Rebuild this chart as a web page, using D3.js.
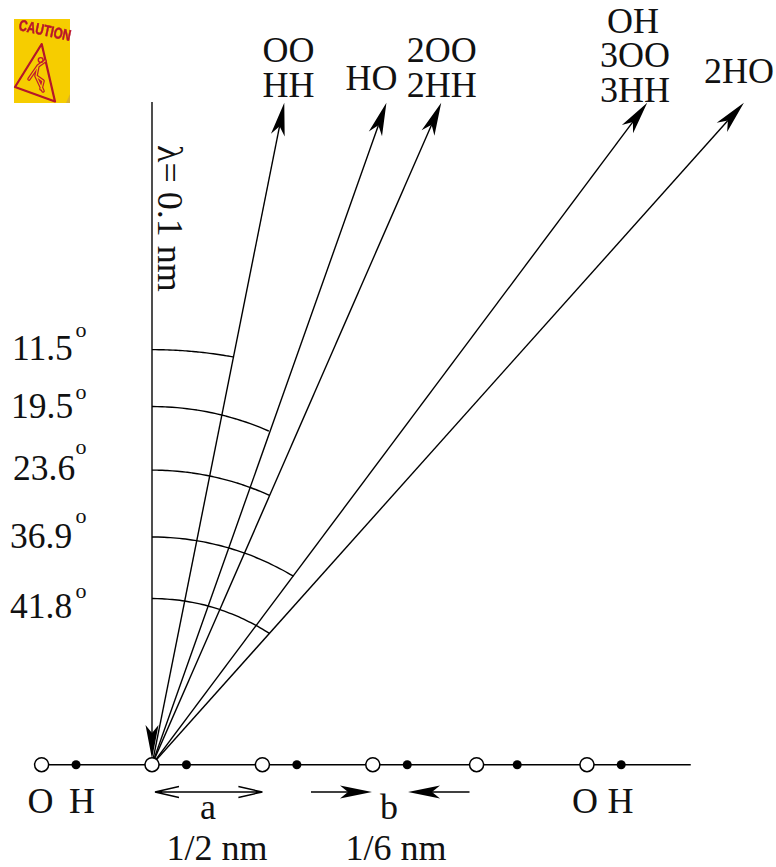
<!DOCTYPE html>
<html>
<head>
<meta charset="utf-8">
<script src="https://d3js.org/d3.v7.min.js"></script>
<style>
html,body{margin:0;padding:0;background:#fff;}
svg{display:block;}
text{font-family:"Liberation Serif","Times New Roman",serif;fill:#111;}
</style>
</head>
<body>
<svg id="c" width="776" height="867"></svg>
<script>
// --- data ---
const oxygenNm   = [-0.5, 0, 0.5, 1, 1.47, 1.97];
const hydrogenNm = [-0.344, 0.156, 0.656, 1.156, 1.654, 2.125];
const lineEndNm  = 2.44;
const rayAngles  = [11.3, 19.5, 23.6, 36.8, 41.8];
const rayHeight  = 1;                // all arrow tips reach the same height
const arcStartR  = [0.627, 0.541, 0.445, 0.344, 0.251];
const arcEndR    = [0.628, 0.534, 0.444, 0.356, 0.266];
const arcEndDeg  = [11.3, 19.3, 23.6, 36.9, 41.8];
const angleLabels = ["11.5", "19.5", "23.6", "36.9", "41.8"];
const rayLabels = [
  ["OO", "HH"], ["HO"], ["2OO", "2HH"], ["OH", "3OO", "3HH"], ["2HO"]
];

// --- layout ---
const x = d3.scaleLinear().domain([0, 0.5]).range([152, 262.4]);
const yAtoms = 764.7;
const rScale = d3.scaleLinear().domain([0, 1]).range([0, 662]);
const svg = d3.select("#c");
const FS = 36;
const rad = d => d * Math.PI / 180;

function head(g, len = 33, notch = 24, hw = 7) {
  // filled barbed head pointing "up" with the tip at the local origin
  g.append("path")
    .attr("d", `M0,0L${hw},${len}L0,${notch}L${-hw},${len}Z`)
    .attr("fill", "#000");
}

// --- caution sign (decorative picture) ---
const defs = svg.append("defs");
defs.append("filter").attr("id", "soft").append("feGaussianBlur").attr("stdDeviation", 0.35);
const sign = svg.append("g").attr("filter", "url(#soft)");
sign.append("rect").attr("x", 14).attr("y", 19).attr("width", 56).attr("height", 84).attr("fill", "#f6cd02");
sign.append("path").attr("d", "M66,103L70,103L70,94Z").attr("fill", "#d9b030");
sign.append("text")
  .attr("transform", "translate(18,30) rotate(12)")
  .attr("textLength", 53).attr("lengthAdjust", "spacingAndGlyphs")
  .style("font-family", "'Liberation Sans'").style("font-weight", 700)
  .style("font-size", "15.5px").style("fill", "#b8142a")
  .style("stroke", "#b8142a").style("stroke-width", 0.5).text("CAUTION");
sign.append("path").attr("d", "M41.7,44L15,87L55,101.5Z")
  .attr("fill", "none").attr("stroke", "#b5142a").attr("stroke-width", 2.2).attr("stroke-linejoin", "round");
const figure = "M45,61L38,66L29,79M38,66L36,76L43,91M36,76L43,81L41,89";
sign.append("path").attr("d", figure).attr("fill", "none").attr("stroke", "#c01a2c").attr("stroke-width", 3.6)
  .attr("stroke-linecap", "round").attr("stroke-linejoin", "round");
sign.append("path").attr("d", figure).attr("fill", "none").attr("stroke", "#f6cd02").attr("stroke-width", 1.2)
  .attr("stroke-linecap", "round").attr("stroke-linejoin", "round");
sign.append("circle").attr("cx", 40.7).attr("cy", 60).attr("r", 2.4).attr("fill", "none").attr("stroke", "#c01a2c").attr("stroke-width", 1.4);

// --- incident vertical arrow ---
svg.append("line").attr("x1", 152).attr("x2", 152).attr("y1", 102).attr("y2", 745)
  .attr("stroke", "#222").attr("stroke-width", 1.6);
head(svg.append("g").attr("transform", `translate(152,759) rotate(180)`), 34, 26, 6.5);

// --- diffracted rays ---
const origin = svg.append("g").attr("transform", `translate(${x(0)},${yAtoms})`);
rayAngles.forEach(a => {
  const len = rScale(rayHeight) / Math.cos(rad(a));
  const g = origin.append("g").attr("transform", `rotate(${a})`);
  g.append("line").attr("x1", 0).attr("x2", 0).attr("y1", 0).attr("y2", -len + 24)
    .attr("stroke", "#000").attr("stroke-width", 1.4);
  head(g.append("g").attr("transform", `translate(0,${-len})`));
});

// --- angle arcs (slightly flattened, so radius varies with the angle) ---
arcStartR.forEach((r0, i) => {
  const end = arcEndDeg[i];
  const r = d3.scalePow().exponent(2).domain([0, end]).range([rScale(r0), rScale(arcEndR[i])]);
  const path = d3.lineRadial().angle(d => rad(d)).radius(d => r(d)).curve(d3.curveBasis);
  origin.append("path")
    .attr("d", path(d3.range(0, end, end / 24).concat([end])))
    .attr("fill", "none").attr("stroke", "#000").attr("stroke-width", 1.4);
});

// --- crystal row ---
svg.append("line").attr("x1", x(oxygenNm[0])).attr("x2", x(lineEndNm))
  .attr("y1", yAtoms).attr("y2", yAtoms).attr("stroke", "#000").attr("stroke-width", 1.5);
svg.selectAll("circle.o").data(oxygenNm).join("circle").attr("class", "o")
  .attr("cx", d => x(d)).attr("cy", yAtoms).attr("r", 7)
  .attr("fill", "#fff").attr("stroke", "#000").attr("stroke-width", 1.5);
svg.selectAll("circle.h").data(hydrogenNm).join("circle").attr("class", "h")
  .attr("cx", d => x(d)).attr("cy", yAtoms).attr("r", 4.5).attr("fill", "#000");

// --- dimension arrows ---
const yDim = 792;
svg.append("path")
  .attr("d", `M${x(0) + 3},${yDim}H${x(0.5)}M${x(0) + 27},${yDim - 5.5}L${x(0) + 3},${yDim}L${x(0) + 27},${yDim + 5.5}M${x(0.5) - 24},${yDim - 5.5}L${x(0.5)},${yDim}L${x(0.5) - 24},${yDim + 5.5}`)
  .attr("fill", "none").attr("stroke", "#000").attr("stroke-width", 1.3);
svg.append("line").attr("x1", 311).attr("x2", 350).attr("y1", yDim).attr("y2", yDim).attr("stroke", "#000").attr("stroke-width", 1.5);
svg.append("line").attr("x1", 430).attr("x2", 469.5).attr("y1", yDim).attr("y2", yDim).attr("stroke", "#000").attr("stroke-width", 1.5);
head(svg.append("g").attr("transform", `translate(372,${yDim}) rotate(90)`), 32, 24, 6.5);
head(svg.append("g").attr("transform", `translate(408,${yDim}) rotate(-90)`), 32, 24, 6.5);

// --- text ---
function label(s, px, py, anchor = "middle", size = FS) {
  return svg.append("text").attr("x", px).attr("y", py).attr("text-anchor", anchor)
    .style("font-size", size + "px").text(s);
}
const rayLabelX = [[288.5, 288.5], [371.5], [441.7, 441.7], [633, 635, 635], [739]];
const rayLabelY = [[61.5, 96.5], [89.5], [61.5, 96.5], [33, 67, 102], [82.5]];
rayLabels.forEach((lines, i) => lines.forEach((s, j) => label(s, rayLabelX[i][j], rayLabelY[i][j])));

const angleLabelX = [12, 11, 13, 10, 10];
const angleLabelY = [360, 417.7, 480, 547.7, 617.7];
const degreeY = [337, 399, 454, 523, 598];
angleLabels.forEach((s, i) => {
  label(s, angleLabelX[i], angleLabelY[i], "start", 35.5);
  label("o", 81, degreeY[i], "middle", 22);
});

svg.append("text")
  .attr("transform", "translate(158,145) rotate(90)")
  .style("font-size", FS + "px").text("\u03bb= 0.1 nm");

label("O", 40.5, 812.5); label("H", 82, 812.5);
label("O", 585, 812.5); label("H", 620.5, 812.5);
label("a", 208, 819); label("b", 389, 819);
label("1/2 nm", 217, 860); label("1/6 nm", 396, 860);
</script>
</body>
</html>
